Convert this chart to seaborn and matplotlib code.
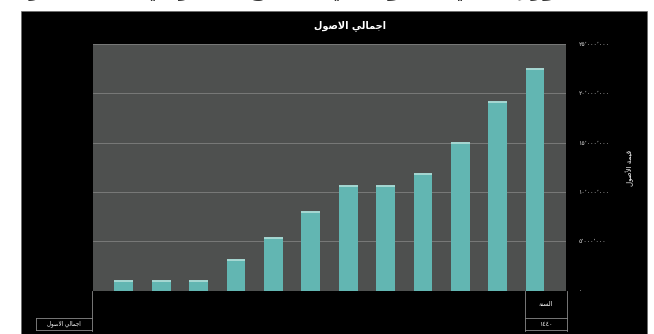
import numpy as np
import pandas as pd
import matplotlib.pyplot as plt
import seaborn as sns
from matplotlib.patches import Rectangle
from matplotlib.lines import Line2D

# data (values in SAR)
years = ['1429', '1430', '1431', '1432', '1433', '1434',
         '1435', '1436', '1437', '1438', '1439', '1440']
assets = [0.97e6, 0.97e6, 0.97e6, 3.1e6, 5.35e6, 7.98e6,
          10.6e6, 10.6e6, 11.85e6, 15.0e6, 19.15e6, 22.5e6]
yticks = [0, 5e6, 10e6, 15e6, 20e6, 25e6]

title_txt = 'اجمالي الاصول'
ylabel_txt = 'قيمة الأصول'
series_txt = 'اجمالي الاصول'
table_head = 'السنة'
table_val = '١٤٤٠'
top_txt = 'تطور إجمالي الأصول في القطاع المصرفي خلال الفترة'

# matplotlib has no arabic shaping -> small reshaper (presentation forms + visual order)
forms = {'ا': (0xFE8D, 2), 'أ': (0xFE83, 2), 'إ': (0xFE87, 2), 'آ': (0xFE81, 2),
         'ب': (0xFE8F, 4), 'ة': (0xFE93, 2), 'ت': (0xFE95, 4), 'ث': (0xFE99, 4),
         'ج': (0xFE9D, 4), 'ح': (0xFEA1, 4), 'خ': (0xFEA5, 4), 'د': (0xFEA9, 2),
         'ذ': (0xFEAB, 2), 'ر': (0xFEAD, 2), 'ز': (0xFEAF, 2), 'س': (0xFEB1, 4),
         'ش': (0xFEB5, 4), 'ص': (0xFEB9, 4), 'ض': (0xFEBD, 4), 'ط': (0xFEC1, 4),
         'ظ': (0xFEC5, 4), 'ع': (0xFEC9, 4), 'غ': (0xFECD, 4), 'ف': (0xFED1, 4),
         'ق': (0xFED5, 4), 'ك': (0xFED9, 4), 'ل': (0xFEDD, 4), 'م': (0xFEE1, 4),
         'ن': (0xFEE5, 4), 'ه': (0xFEE9, 4), 'و': (0xFEED, 2), 'ى': (0xFEEF, 2),
         'ي': (0xFEF1, 4)}
lamalef = {'ا': 0xFEFB, 'أ': 0xFEF7, 'إ': 0xFEF9, 'آ': 0xFEF5}


def shape(s):
    toks = []
    i = 0
    while i < len(s):
        c = s[i]
        if c == 'ل' and i + 1 < len(s) and s[i + 1] in lamalef:
            toks.append(('LA', lamalef[s[i + 1]]))
            i += 2
            continue
        toks.append((c, None))
        i += 1
    out = []
    for k, (c, lig) in enumerate(toks):
        prev = toks[k - 1][0] if k > 0 else None
        nxt = toks[k + 1][0] if k + 1 < len(toks) else None
        jp = prev in forms and forms[prev][1] == 4
        if lig is not None:
            out.append(chr(lig + (1 if jp else 0)))
            continue
        if c not in forms:
            out.append(c)
            continue
        base, n = forms[c]
        jn = n == 4 and (nxt in forms or nxt == 'LA')
        if jp and jn:
            out.append(chr(base + 3))
        elif jn:
            out.append(chr(base + 2))
        elif jp:
            out.append(chr(base + 1))
        else:
            out.append(chr(base))
    return ''.join(out[::-1])


def ar_num(v):
    s = f'{int(v):,}'.replace(',', '٬')
    return s.translate(str.maketrans('0123456789', '٠١٢٣٤٥٦٧٨٩'))


df = pd.DataFrame({'year': years, 'assets': assets})

fig = plt.figure(figsize=(6.54, 3.34), dpi=100, facecolor='white')

# black chart panel (behind the axes)
fig.add_artist(Rectangle((21 / 654, 0), 626 / 654, 323 / 334,
                         transform=fig.transFigure, facecolor='black',
                         edgecolor='#6a6a6a', lw=0.5, zorder=-5))
# heading of the page, cut off by the crop
fig.text(0.46, 1.013, shape(top_txt), ha='center', va='baseline',
         fontsize=15, color='#333333', fontweight='bold')

ax = fig.add_axes([0.1422, 0.1302, 0.7232, 0.738])
ax.set_facecolor('#4e504f')

sns.barplot(data=df, x='year', y='assets', color='#62b6b2', saturation=1,
            width=0.5, ax=ax, zorder=3)
# lighter cap on each bar
xs = np.arange(len(years))
ax.hlines(assets, xs - 0.25, xs + 0.25, color='#a6d8d3', lw=1.4, zorder=4)

ax.set_ylim(0, 25e6)
ax.set_yticks(yticks)
ax.set_yticklabels([ar_num(v) for v in yticks], color='#dddddd', fontsize=4.5)
ax.yaxis.tick_right()
ax.tick_params(axis='y', length=0, pad=9)
ax.tick_params(axis='x', length=0, labelbottom=False)
ax.grid(axis='y', color='#808080', lw=0.6, zorder=1)
ax.set_axisbelow(True)
for sp in ax.spines.values():
    sp.set_visible(False)
ax.set_xlabel('')
ax.set_ylabel('')

fig.text(630 / 654, 1 - 168 / 334, shape(ylabel_txt), rotation=90,
         ha='center', va='center', color='white', fontsize=5)

fig.text(350 / 654, 1 - 26 / 334, shape(title_txt), ha='center', va='center',
         color='white', fontsize=7, fontweight='bold')

# data table frame under the plot
W, H = 654, 334
def seg(x0, y0, x1, y1):
    fig.add_artist(Line2D([x0 / W, x1 / W], [1 - y0 / H, 1 - y1 / H],
                          transform=fig.transFigure, color='#8a8a8a', lw=0.6))

seg(92, 291, 92, 331)
seg(36, 318, 92, 318)
seg(36, 318, 36, 330)
seg(36, 330, 92, 330)
seg(525, 291, 525, 331)
seg(567, 291, 567, 331)
seg(525, 318, 567, 318)
seg(525, 330, 567, 330)

fig.text(64 / W, 1 - 324 / H, shape(series_txt), ha='center', va='center',
         color='white', fontsize=4)
fig.text(546 / W, 1 - 304 / H, shape(table_head), ha='center', va='center',
         color='white', fontsize=4.5)
fig.text(546 / W, 1 - 324 / H, table_val, ha='center', va='center',
         color='white', fontsize=4.5)

fig.savefig('out.png', dpi=100, facecolor='white')
